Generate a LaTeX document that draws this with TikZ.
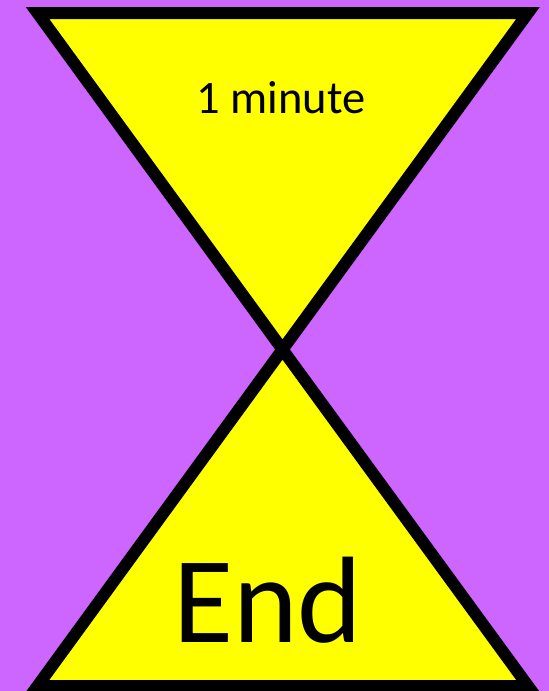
\documentclass[tikz,border=0pt]{standalone}
\usepackage{fontspec}
\setmainfont{Carlito}
\definecolor{GlassPurple}{HTML}{CC66FF}
\definecolor{SandYellow}{HTML}{FFFF00}

\begin{document}
\begin{tikzpicture}[
    x=1pt, y=-1pt,
    bulb/.style={draw=black, fill=SandYellow, line width=12pt, line join=miter},
    label/.style={anchor=base, inner sep=0pt, text=black}
  ]
    \fill[GlassPurple] (0,0) rectangle (549,691);
    \useasboundingbox (0,0) rectangle (549,691);
    \coordinate (tl) at (37.5,13);
    \coordinate (tr) at (528,13);
    \coordinate (neck) at (282.5,349.5);
    \coordinate (bl) at (37.5,686);
    \coordinate (br) at (528,686);
    \begin{scope}
      \clip (0,0) rectangle (549,691);
      \draw[bulb] (tl) -- (tr) -- (neck) -- cycle;
      \draw[bulb] (neck) -- (br) -- (bl) -- cycle;
    \end{scope}
    \node[label, font=\fontsize{46.5}{46.5}\selectfont] (timer) at (281,113) {1 minute};
    \node[label, font=\fontsize{123}{123}\selectfont] (finish) at (268,642) {End};
  \end{tikzpicture}
\end{document}
